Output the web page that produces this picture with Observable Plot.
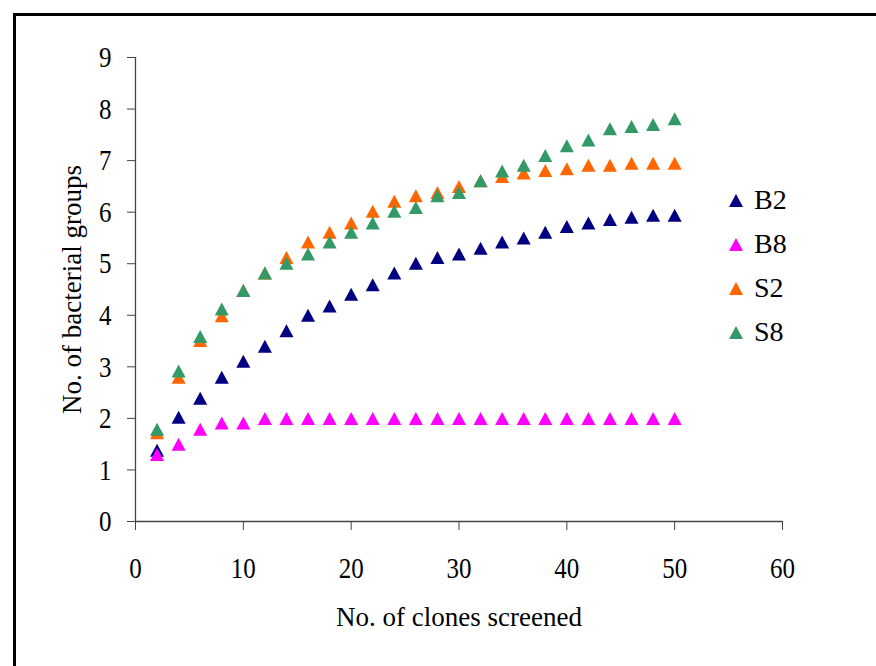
<!DOCTYPE html>
<html>
<head>
<meta charset="utf-8">
<script src="https://cdn.jsdelivr.net/npm/d3@7"></script>
<script src="https://cdn.jsdelivr.net/npm/@observablehq/plot@0.6"></script>
<style>
  html, body { margin: 0; padding: 0; background: #fff; }
  #wrap { position: relative; width: 876px; height: 666px; overflow: hidden; background: #fff; font-family: "Liberation Serif", "DejaVu Serif", serif; }
  #frameL { position: absolute; left: 13px; top: 13px; width: 3px; height: 700px; background: #000; }
  #frameT { position: absolute; left: 13px; top: 13px; width: 900px; height: 3px; background: #000; }
  #legend { position: absolute; left: 729px; top: 178px; font-size: 28px; color: #000; }
  .item { display: flex; align-items: center; height: 44px; }
  .item svg { margin-right: 11px; }
</style>
</head>
<body>
<div id="wrap">
  <div id="frameL"></div>
  <div id="frameT"></div>
  <div id="chart"></div>
  <div id="legend"></div>
</div>
<script>
const clones = [2,4,6,8,10,12,14,16,18,20,22,24,26,28,30,32,34,36,38,40,42,44,46,48,50];
const seriesNames = ["B2", "B8", "S2", "S8"];
const seriesColors = ["#000080", "#FF00FF", "#FF6600", "#339966"];
const B2 = [1.38,2.02,2.39,2.80,3.11,3.40,3.70,4.00,4.18,4.41,4.59,4.82,5.01,5.12,5.19,5.30,5.42,5.50,5.61,5.72,5.79,5.86,5.90,5.94,5.94];
const B8 = [1.30,1.50,1.79,1.91,1.91,2.00,2.00,2.00,2.00,2.00,2.00,2.00,2.00,2.00,2.00,2.00,2.00,2.00,2.00,2.00,2.00,2.00,2.00,2.00,2.00];
const S2 = [1.72,2.80,3.51,3.99,4.48,4.82,5.12,5.42,5.61,5.79,6.02,6.21,6.32,6.38,6.50,6.61,6.69,6.76,6.81,6.84,6.91,6.91,6.95,6.95,6.95];
const S8 = [1.79,2.92,3.59,4.12,4.48,4.82,5.01,5.19,5.42,5.61,5.79,6.02,6.09,6.32,6.38,6.61,6.80,6.91,7.10,7.29,7.40,7.62,7.66,7.70,7.81];
const xTicks = [0,10,20,30,40,50,60];
const yTicks = [0,1,2,3,4,5,6,7,8,9];
const xTitle = "No. of clones screened";
const yTitle = "No. of bacterial groups";

const values = [B2, B8, S2, S8];
const data = [];
seriesNames.forEach((s, i) => clones.forEach((c, j) => data.push({series: s, clones: c, groups: values[i][j]})));

const tri = {
  draw(ctx, size) {
    const r = Math.sqrt(size / Math.PI);
    ctx.moveTo(0, -r);
    ctx.lineTo(r * 1.08, r);
    ctx.lineTo(-r * 1.08, r);
    ctx.closePath();
  }
};

const font = "Liberation Serif";
const chart = Plot.plot({
  width: 876,
  height: 666,
  marginLeft: 135,
  marginRight: 94,
  marginTop: 57,
  marginBottom: 145,
  style: {fontFamily: font, fontSize: "25px", color: "#000", background: "transparent"},
  x: {domain: [0, 60]},
  y: {domain: [0, 9]},
  color: {domain: seriesNames, range: seriesColors},
  marks: [
    Plot.ruleY([0], {stroke: "#444", strokeWidth: 1.3}),
    Plot.ruleX([0], {stroke: "#444", strokeWidth: 1.3}),
    Plot.axisX({ticks: xTicks, tickSize: 9, tickPadding: 28, label: null, fontSize: 25, stroke: "#444", tickFormat: d => String(d)}),
    Plot.axisY({ticks: yTicks, tickSize: 8, tickPadding: 16, label: null, fontSize: 25, stroke: "#444", tickFormat: d => String(d)}),
    Plot.dot(data, {x: "clones", y: "groups", fill: "series", symbol: tri, r: 6.5, stroke: null}),
    Plot.text([xTitle], {frameAnchor: "bottom", dy: 104, lineAnchor: "bottom", fontSize: 27, fill: "#000"}),
    Plot.text([yTitle], {frameAnchor: "left", dx: -63, rotate: -90, textAnchor: "middle", lineAnchor: "middle", fontSize: 27, fill: "#000"})
  ]
});
document.getElementById("chart").appendChild(chart);

// tick labels in the reference are drawn vertically stretched
const k = 1.2;
chart.querySelectorAll('g[aria-label$="tick label"] text').forEach(t => {
  const b = t.getBBox();
  const lx = b.x + b.width / 2, ly = b.y + b.height / 2;
  const c = t.transform.baseVal.consolidate();
  const m = c ? c.matrix : {a: 1, b: 0, c: 0, d: 1, e: 0, f: 0};
  const cx = m.a * lx + m.c * ly + m.e, cy = m.b * lx + m.d * ly + m.f;
  const old = t.getAttribute("transform") || "";
  t.setAttribute("transform", `translate(${cx},${cy}) scale(1,${k}) translate(${-cx},${-cy}) ${old}`);
});

const legend = document.getElementById("legend");
seriesNames.forEach((s, i) => {
  const item = document.createElement("div");
  item.className = "item";
  item.innerHTML = `<svg width="14" height="13" viewBox="0 0 14 13"><path d="M7,0L14,13L0,13Z" fill="${seriesColors[i]}"/></svg><span>${s}</span>`;
  legend.appendChild(item);
});
</script>
</body>
</html>
